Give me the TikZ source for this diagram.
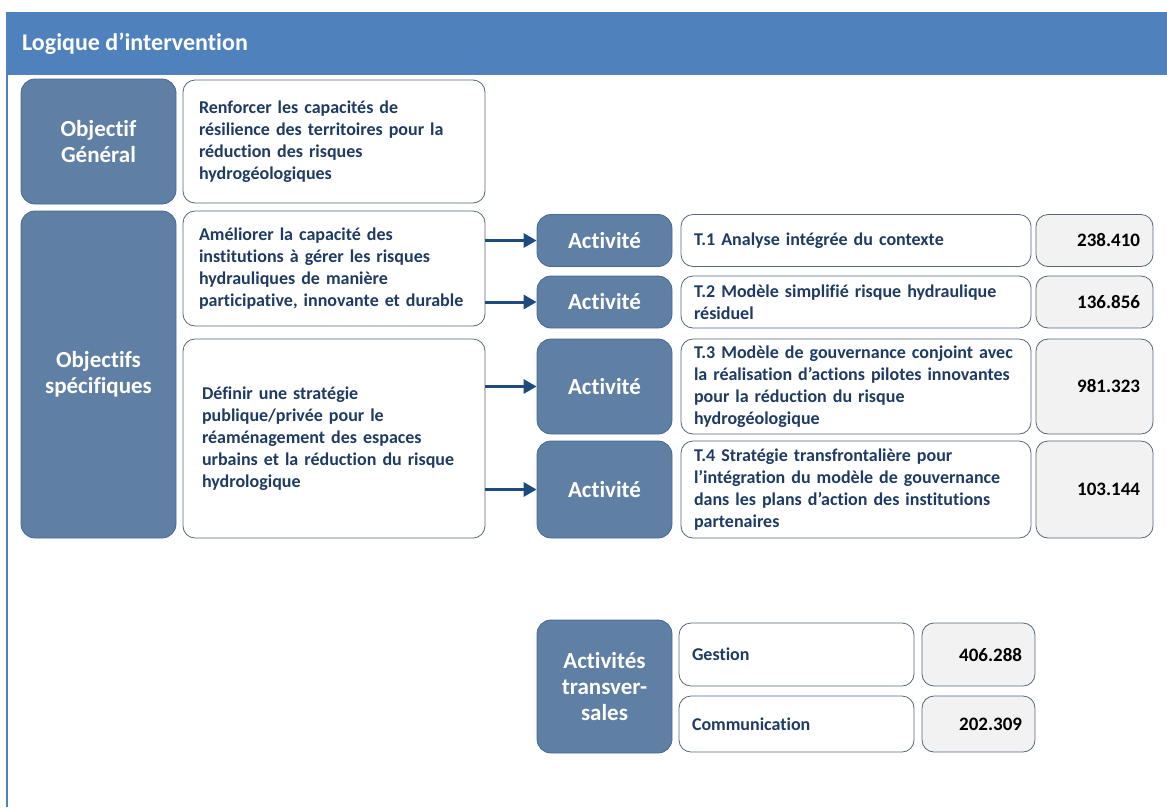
\documentclass[tikz,border=0pt]{standalone}
\usepackage{fontspec}
\setmainfont{Carlito}[Ligatures=NoCommon]
\usetikzlibrary{arrows.meta}
\definecolor{headblue}{HTML}{4F81BD}
\definecolor{slate}{HTML}{5F7FA4}
\definecolor{slateedge}{HTML}{4A6890}
\definecolor{boxedge}{HTML}{56667A}
\definecolor{navytext}{HTML}{1F3B63}
\definecolor{numfill}{HTML}{F2F2F2}
\definecolor{arrowblue}{HTML}{1F4A7D}
\tikzset{
  darkbox/.style={rounded corners=14pt, fill=slate, draw=slateedge, line width=0.8pt,
    text=white, font=\bfseries\fontsize{23}{26}\selectfont, align=center, inner sep=0pt},
  whitebox/.style={rounded corners=12pt, fill=white, draw=boxedge, line width=0.8pt,
    text=navytext, font=\bfseries\fontsize{18}{22}\selectfont, align=left,
    inner ysep=0pt},
  numbox/.style={rounded corners=12pt, fill=numfill, draw=boxedge, line width=0.8pt,
    text=black, font=\bfseries\fontsize{19}{22}\selectfont, align=right,
    inner ysep=0pt, inner xsep=13pt},
  linkarrow/.style={line width=3pt, draw=arrowblue,
    -{Triangle[length=13pt,width=14pt]}},
}
\begin{document}
\begin{tikzpicture}[x=1pt,y=-1pt]
\useasboundingbox (0,0) rectangle (1167,807);
% heading band and side rule
\fill[headblue] (6,12) rectangle (1167,75);
\draw[headblue, line width=2.2pt] (7,75) -- (7,807);
\node[anchor=west, text=white, font=\bfseries\fontsize{24}{26}\selectfont, inner sep=0pt]
  (title) at (22,44) {Logique d’intervention};

% objectives column
\node[darkbox, minimum width=155pt, minimum height=125pt] (og) at (98.5,141.5)
  {Objectif\\Général};
\node[darkbox, minimum width=155pt, minimum height=327pt] (os) at (98.5,374.5)
  {Objectifs\\spécifiques};

\node[whitebox, text width=270pt, inner xsep=16pt, minimum height=123pt] (wb1) at (334,141.5)
  {Renforcer les capacités de\\résilience des territoires pour la\\réduction des risques\\hydrogéologiques};
\node[whitebox, text width=270pt, inner xsep=16pt, minimum height=115pt] (wb2) at (334,268.5)
  {Améliorer la capacité des\\institutions à gérer les risques\\hydrauliques de manière\\participative, innovante et durable};
\node[whitebox, text width=264pt, inner xsep=19pt, minimum height=199pt] (wb3) at (334,438.5)
  {Définir une stratégie\\publique/privée pour le\\réaménagement des espaces\\urbains et la réduction du risque\\hydrologique};

% activities
\node[darkbox, minimum width=135pt, minimum height=52pt] (act1) at (604.5,240.5) {Activité};
\node[darkbox, minimum width=135pt, minimum height=52pt] (act2) at (604.5,302) {Activité};
\node[darkbox, minimum width=135pt, minimum height=95pt] (act3) at (604.5,386.5) {Activité};
\node[darkbox, minimum width=135pt, minimum height=97pt] (act4) at (604.5,489.5) {Activité};

\node[whitebox, text width=324pt, inner xsep=13pt, minimum height=52pt] (t1) at (856,240.5)
  {T.1 Analyse intégrée du contexte};
\node[whitebox, text width=324pt, inner xsep=13pt, minimum height=52pt] (t2) at (856,302)
  {T.2 Modèle simplifié risque hydraulique\\résiduel};
\node[whitebox, text width=324pt, inner xsep=13pt, minimum height=95pt] (t3) at (856,386.5)
  {T.3 Modèle de gouvernance conjoint avec\\la réalisation d’actions pilotes innovantes\\pour la réduction du risque\\hydrogéologique};
\node[whitebox, text width=324pt, inner xsep=13pt, minimum height=97pt] (t4) at (856,489.5)
  {T.4 Stratégie transfrontalière pour\\l’intégration du modèle de gouvernance\\dans les plans d’action des institutions\\partenaires};

\node[numbox, text width=91pt, minimum height=52pt] (n1) at (1094.5,240.5) {238.410};
\node[numbox, text width=91pt, minimum height=52pt] (n2) at (1094.5,302) {136.856};
\node[numbox, text width=91pt, minimum height=95pt] (n3) at (1094.5,386.5) {981.323};
\node[numbox, text width=91pt, minimum height=97pt] (n4) at (1094.5,489.5) {103.144};

% links from specific objectives to activities
\draw[linkarrow] (wb2.east |- act1.west) -- (act1.west);
\draw[linkarrow] (wb2.east |- act2.west) -- (act2.west);
\draw[linkarrow] (wb3.east |- act3.west) -- (act3.west);
\draw[linkarrow] (wb3.east |- act4.west) -- (act4.west);

% cross-cutting activities
\node[darkbox, minimum width=135pt, minimum height=133pt] (tr) at (604.5,686.5)
  {Activités\\transver-\\sales};
\node[whitebox, text width=209pt, inner xsep=13pt, minimum height=63pt] (ges) at (796.5,654.5)
  {Gestion};
\node[whitebox, text width=209pt, inner xsep=13pt, minimum height=56pt] (com) at (796.5,724)
  {Communication};
\node[numbox, text width=87pt, minimum height=63pt] (gn) at (978.5,654.5) {406.288};
\node[numbox, text width=87pt, minimum height=56pt] (cn) at (978.5,724) {202.309};
\end{tikzpicture}
\end{document}
